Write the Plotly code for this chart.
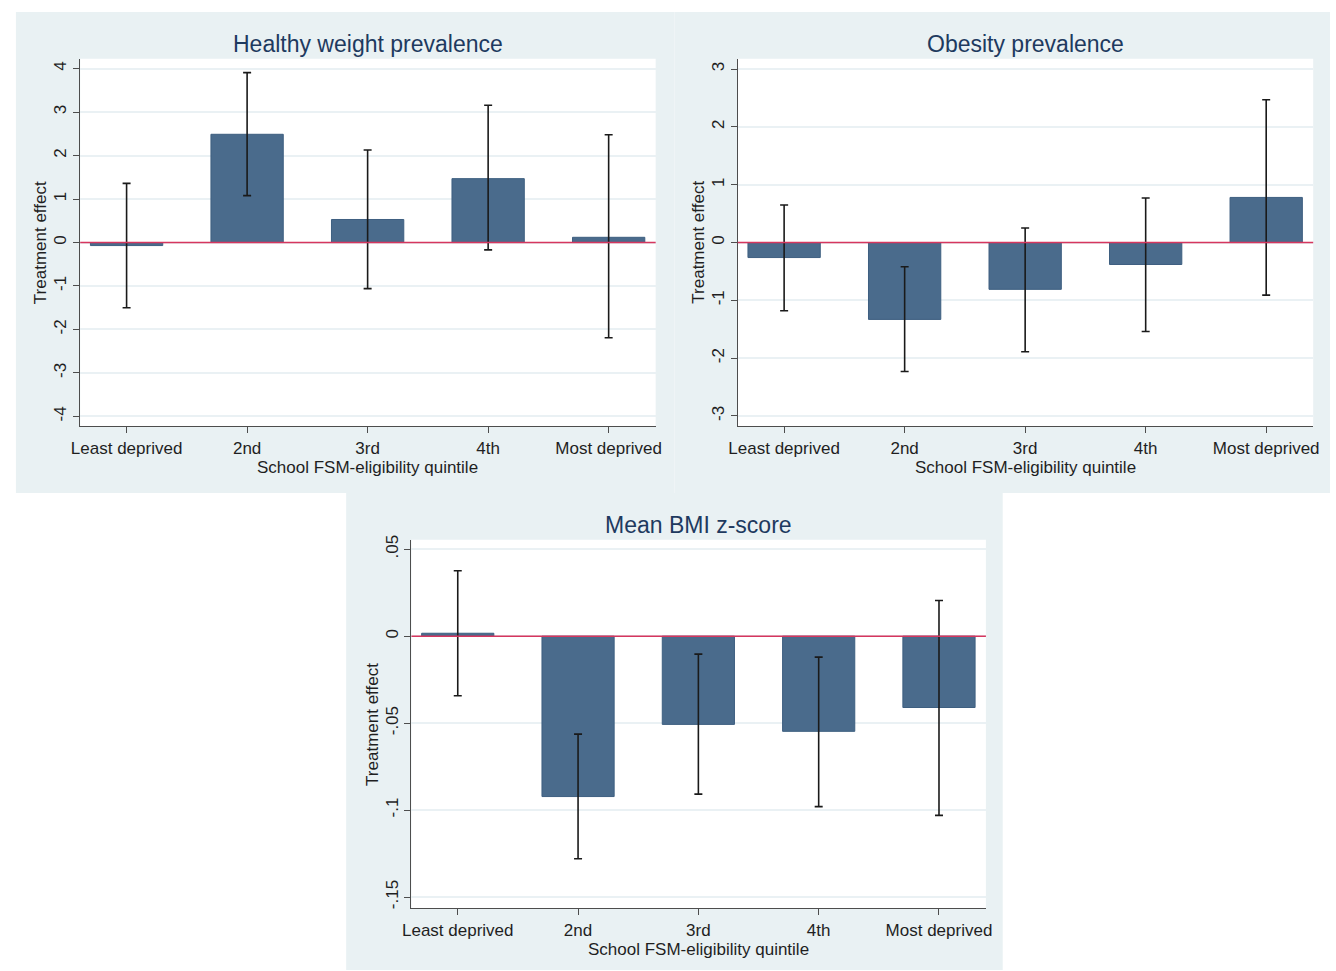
import plotly.graph_objects as go

# Quintile categories shared by all three panels
quintiles = ["Least deprived", "2nd", "3rd", "4th", "Most deprived"]

# Healthy weight prevalence: point estimate and 95% CI
healthy_est = [-0.07, 2.49, 0.53, 1.47, 0.12]
healthy_lo = [-1.50, 1.08, -1.06, -0.17, -2.19]
healthy_hi = [1.36, 3.91, 2.13, 3.16, 2.48]

# Obesity prevalence
obese_est = [-0.26, -1.33, -0.81, -0.38, 0.78]
obese_lo = [-1.18, -2.23, -1.89, -1.54, -0.91]
obese_hi = [0.65, -0.42, 0.25, 0.77, 2.47]

# Mean BMI z-score
bmi_est = [0.0017, -0.0922, -0.0507, -0.0547, -0.041]
bmi_lo = [-0.0342, -0.128, -0.0908, -0.098, -0.103]
bmi_hi = [0.0376, -0.0563, -0.0103, -0.012, 0.0205]

healthy_ticks = [-4, -3, -2, -1, 0, 1, 2, 3, 4]
healthy_tick_text = ["-4", "-3", "-2", "-1", "0", "1", "2", "3", "4"]
obese_ticks = [-3, -2, -1, 0, 1, 2, 3]
obese_tick_text = ["-3", "-2", "-1", "0", "1", "2", "3"]
bmi_ticks = [-0.15, -0.1, -0.05, 0, 0.05]
bmi_tick_text = ["-.15", "-.1", "-.05", "0", ".05"]

W, H = 1336, 971
BG = "#e9f1f3"
BAR = "#4a6b8c"
BAR_EDGE = "#3e5f80"
ZERO = "#d6365e"
AXIS = "#4d4d4d"
TITLE = "#1e3a5f"
TEXT = "#1f1f1f"
FONT = "Liberation Sans, Arial, sans-serif"
X_TITLE = "School FSM-eligibility quintile"
Y_TITLE = "Treatment effect"


def px_x(v):
    return v / W


def px_y(v):
    return 1 - v / H


fig = go.Figure()

panels = [
    # (suffix, est, lo, hi, title, plot box px (x0,x1,y0,y1), panel box px, yrange, ticks, ticktext)
    ("", healthy_est, healthy_lo, healthy_hi, "Healthy weight prevalence",
     (72, 654, 54, 424), (7, 673, 7, 491), [-4.23, 4.23], healthy_ticks, healthy_tick_text),
    ("2", obese_est, obese_lo, obese_hi, "Obesity prevalence",
     (737, 1319, 54, 424), (673, 1336, 7, 491), [-3.18, 3.18], obese_ticks, obese_tick_text),
    ("3", bmi_est, bmi_lo, bmi_hi, "Mean BMI z-score",
     (407, 988, 538, 909), (341, 1005, 491, 971), [-0.1565, 0.0555], bmi_ticks, bmi_tick_text),
]

shapes = []
annotations = []

for suf, est, lo, hi, title, box, pbox, yr, ticks, ttext in panels:
    xa = "x" + suf
    ya = "y" + suf
    err_plus = [h - e for h, e in zip(hi, est)]
    err_minus = [e - l for e, l in zip(est, lo)]
    fig.add_trace(go.Bar(
        x=list(range(len(quintiles))), y=est,
        xaxis=xa, yaxis=ya,
        width=0.6,
        marker=dict(color=BAR, line=dict(color=BAR_EDGE, width=1)),
        error_y=dict(type="data", symmetric=False, array=err_plus,
                     arrayminus=err_minus, color="#1a1a1a",
                     thickness=1.6, width=4),
        showlegend=False,
    ))

    x0, x1, y0, y1 = box
    xd = [px_x(x0), px_x(x1)]
    yd = [px_y(y1), px_y(y0)]
    fig.layout["xaxis" + suf] = dict(
        domain=xd, range=[-0.385, 4.39], anchor=ya,
        tickmode="array", tickvals=list(range(len(quintiles))), ticktext=quintiles,
        ticks="outside", ticklen=6, tickcolor=AXIS, tickwidth=1.2,
        showline=True, linecolor=AXIS, linewidth=1.2,
        showgrid=False, zeroline=False,
        tickfont=dict(family=FONT, size=17, color=TEXT),
        fixedrange=True,
    )
    fig.layout["yaxis" + suf] = dict(
        domain=yd, range=yr, anchor=xa,
        tickmode="array", tickvals=ticks, ticktext=ttext,
        ticks="outside", ticklen=6, tickcolor=AXIS, tickwidth=1.2,
        tickangle=-90,
        showline=True, linecolor=AXIS, linewidth=1.2,
        showgrid=True, gridcolor="#eaf1f4", gridwidth=1.5,
        zeroline=False,
        tickfont=dict(family=FONT, size=17, color=TEXT),
        fixedrange=True,
    )

    # panel background
    px0, px1, py0, py1 = pbox
    shapes.append(dict(type="rect", xref="paper", yref="paper", layer="below",
                       x0=px_x(px0), x1=px_x(px1), y0=px_y(py1), y1=px_y(py0),
                       fillcolor=BG, line=dict(width=0)))
    # white plot region
    shapes.append(dict(type="rect", xref="paper", yref="paper", layer="below",
                       x0=xd[0], x1=xd[1], y0=yd[0], y1=yd[1],
                       fillcolor="white", line=dict(width=0)))
    # reference line at zero
    shapes.append(dict(type="line", xref=xa + " domain", yref=ya, layer="above",
                       x0=0, x1=1, y0=0, y1=0,
                       line=dict(color=ZERO, width=1.5)))
    # panel title
    annotations.append(dict(text=title, xref="paper", yref="paper",
                            x=(xd[0] + xd[1]) / 2, y=px_y(y0 - 15),
                            xanchor="center", yanchor="middle", showarrow=False,
                            font=dict(family=FONT, size=23, color=TITLE)))
    # x axis title, just under the tick labels
    annotations.append(dict(text=X_TITLE, xref="paper", yref="paper",
                            x=(xd[0] + xd[1]) / 2, y=px_y(y1 + 41),
                            xanchor="center", yanchor="middle", showarrow=False,
                            font=dict(family=FONT, size=17, color=TEXT)))
    # y axis title
    annotations.append(dict(text=Y_TITLE, xref="paper", yref="paper",
                            x=px_x(x0 - 40), y=(yd[0] + yd[1]) / 2,
                            xanchor="center", yanchor="middle", showarrow=False,
                            textangle=-90,
                            font=dict(family=FONT, size=17, color=TEXT)))

fig.update_layout(
    width=W, height=H,
    margin=dict(l=0, r=0, t=0, b=0),
    paper_bgcolor="white", plot_bgcolor="rgba(0,0,0,0)",
    shapes=shapes, annotations=annotations,
    bargap=0.4,
)

# keep the figure flush with the page edges
fig.write_html(
    "out.html",
    post_script="document.body.style.margin='0';document.body.style.overflow='hidden';",
)
